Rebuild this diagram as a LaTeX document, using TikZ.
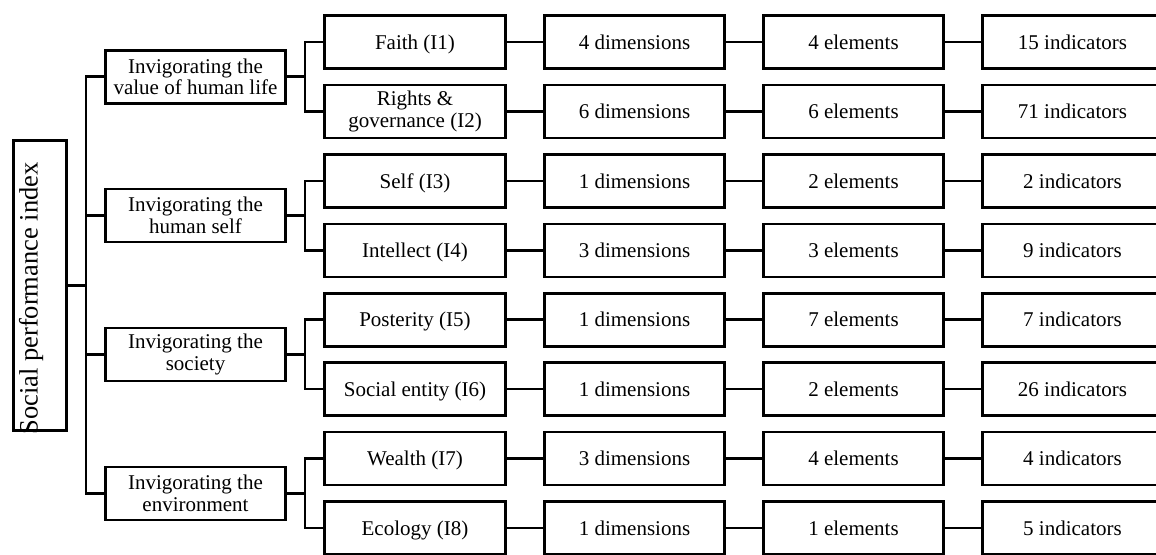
\documentclass[tikz,border=0pt]{standalone}
\usepackage{fontspec}
\setmainfont{Liberation Serif}
\begin{document}
\begin{tikzpicture}[x=1pt,y=-1pt,
  box/.style={draw, line width=2.6pt, minimum width=180.5pt, minimum height=53pt,
    inner sep=0pt, align=center, font=\fontsize{21}{21.7}\selectfont},
  one/.style={text height=14.5pt, text depth=0pt},
  link/.style={line width=2.6pt}]
\useasboundingbox (0,0) rectangle (1156,554);
% root
\node[draw, line width=2.6pt, minimum width=53pt, minimum height=290pt, inner sep=0pt] (root) at (40,285.5) {};
\node[rotate=90, anchor=base, inner sep=0pt, font=\fontsize{26.5}{30}\selectfont] (rootlabel) at (37.5,298.5) {Social performance index};
% level 1
\node[box] (A) at (195.5,76.7) {Invigorating the\\value of human life};
\node[box] (B) at (195.5,215.6) {Invigorating the\\human self};
\node[box] (C) at (195.5,354.4) {Invigorating the\\society};
\node[box] (D) at (195.5,493.3) {Invigorating the\\environment};
% level 2
\node[box,one] (A1) at (415,42) {Faith (I1)};
\node[box] (A2) at (415,111.4) {Rights \&\\governance (I2)};
\node[box,one] (B1) at (415,180.9) {Self (I3)};
\node[box,one] (B2) at (415,250.3) {Intellect (I4)};
\node[box,one] (C1) at (415,319.7) {Posterity (I5)};
\node[box,one] (C2) at (415,389.1) {Social entity (I6)};
\node[box,one] (D1) at (415,458.6) {Wealth (I7)};
\node[box,one] (D2) at (415,528) {Ecology (I8)};
% level 3
\node[box,one] (A1d) at (634.5,42) {4 dimensions};
\node[box,one] (A2d) at (634.5,111.4) {6 dimensions};
\node[box,one] (B1d) at (634.5,180.9) {1 dimensions};
\node[box,one] (B2d) at (634.5,250.3) {3 dimensions};
\node[box,one] (C1d) at (634.5,319.7) {1 dimensions};
\node[box,one] (C2d) at (634.5,389.1) {1 dimensions};
\node[box,one] (D1d) at (634.5,458.6) {3 dimensions};
\node[box,one] (D2d) at (634.5,528) {1 dimensions};
% level 4
\node[box,one] (A1e) at (853.5,42) {4 elements};
\node[box,one] (A2e) at (853.5,111.4) {6 elements};
\node[box,one] (B1e) at (853.5,180.9) {2 elements};
\node[box,one] (B2e) at (853.5,250.3) {3 elements};
\node[box,one] (C1e) at (853.5,319.7) {7 elements};
\node[box,one] (C2e) at (853.5,389.1) {2 elements};
\node[box,one] (D1e) at (853.5,458.6) {4 elements};
\node[box,one] (D2e) at (853.5,528) {1 elements};
% level 5
\node[box,one] (A1i) at (1072.5,42) {15 indicators};
\node[box,one] (A2i) at (1072.5,111.4) {71 indicators};
\node[box,one] (B1i) at (1072.5,180.9) {2 indicators};
\node[box,one] (B2i) at (1072.5,250.3) {9 indicators};
\node[box,one] (C1i) at (1072.5,319.7) {7 indicators};
\node[box,one] (C2i) at (1072.5,389.1) {26 indicators};
\node[box,one] (D1i) at (1072.5,458.6) {4 indicators};
\node[box,one] (D2i) at (1072.5,528) {5 indicators};
% connectors
\foreach \n in {A,B,C,D}{
  \draw[link] (root.east) -- ++(18,0) |- (\n.west);
  \draw[link] (\n.east) -- ++(18,0) |- (\n1.west);
  \draw[link] (\n.east) -- ++(18,0) |- (\n2.west);
  \foreach \k in {1,2}{
    \draw[link] (\n\k.east) -- (\n\k d.west);
    \draw[link] (\n\k d.east) -- (\n\k e.west);
    \draw[link] (\n\k e.east) -- (\n\k i.west);
  }
}
\end{tikzpicture}
\end{document}
